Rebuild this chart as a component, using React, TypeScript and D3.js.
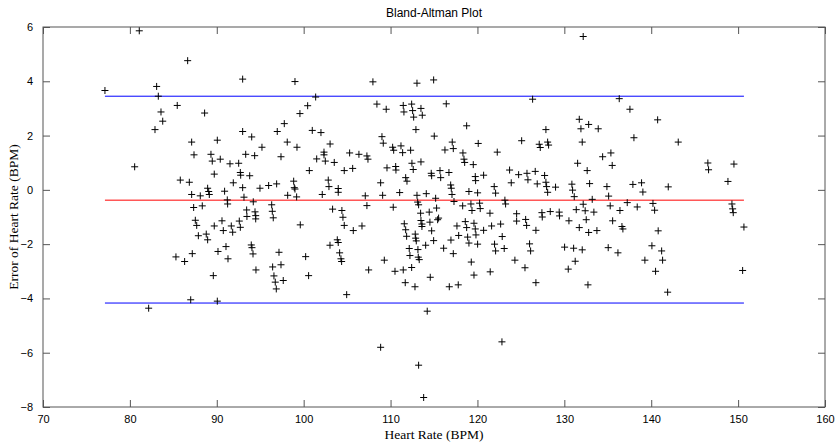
import React, { useEffect, useRef } from "react";
import { select, scaleLinear, axisLeft, axisBottom, axisTop, axisRight, extent, range } from "d3";

const heartRate = [
  81.08, 86.65, 83.08, 77.13, 83.27, 85.45, 83.58, 88.6, 83.78, 82.89, 87.11, 90.06, 87.38, 89.33, 89.48, 90.4,
  80.55, 89.71, 85.8, 86.84, 88.95, 89.07, 87.11, 88.1, 89.14, 90.9, 87.34, 88.33,
  92.98, 99.0, 101.38, 100.46, 99.57, 97.77, 92.98, 96.96, 100.99, 101.99, 94.02, 103.04, 95.2, 98.11, 99.23,
  102.34, 102.34, 105.29, 93.33, 94.36, 97.39, 101.5, 102.49, 103.52, 91.52, 92.52, 100.65, 104.67, 105.64,
  92.71, 92.75, 93.79, 91.9, 92.98, 94.97, 95.97, 96.89, 98.85, 98.92, 99.0, 102.83, 102.91, 103.98, 103.98,
  93.13, 98.16, 99.19, 102.14, 91.21, 91.25, 94.2, 96.32, 93.44, 94.4, 96.39, 103.33, 104.4,
  87.53, 87.69, 90.6, 89.71, 90.75, 87.88, 88.79, 88.95, 85.3, 86.3, 87.18, 90.14, 89.6, 87.0, 90.06, 82.16,
  94.48, 94.48, 93.47, 96.5, 91.67, 91.83, 92.59, 92.71, 91.06, 91.29, 93.97, 94.05, 94.17, 94.51, 97.16,
  96.43, 97.39, 96.58, 96.73, 97.65, 96.85, 99.61, 100.23, 100.57, 104.52, 104.67, 105.71, 103.03, 103.87,
  103.98, 104.14, 104.29, 104.37, 104.95,
  107.97, 113.04, 114.96, 108.43, 109.5, 111.46, 112.43, 111.54, 112.54, 113.5, 112.66, 113.65, 116.41,
  112.92, 118.76, 109.01, 109.16, 115.03, 110.24, 110.36, 111.2, 111.39, 112.31, 117.1, 117.22, 116.26,
  120.09, 106.36, 107.28, 107.4, 109.59, 110.59, 110.62, 112.46, 112.61, 113.5, 114.68, 114.73, 115.69,
  115.77, 116.72, 118.33, 118.45, 118.53, 119.52, 119.75, 119.79, 120.71, 111.74, 111.89, 108.86, 116.92,
  116.99, 117.07, 117.3, 119.02, 120.02, 107.09, 109.09, 111.05, 113.04, 114.11, 115.19, 113.12, 113.23,
  107.28, 110.31, 115.3, 118.3, 119.25, 120.25, 120.32, 119.37, 113.46, 114.45,
  115.53, 115.42, 113.5, 113.61, 113.61, 114.53, 114.73, 114.96, 114.04, 111.58, 111.74, 111.85, 112.84,
  112.89, 112.96, 106.71, 112.15, 112.23, 113.15, 113.19, 113.3, 109.28, 107.48, 110.51, 111.46, 112.43,
  111.69, 112.81, 114.57, 116.11, 116.95, 117.22, 116.76, 117.79, 117.64, 117.84, 118.6, 118.76, 118.87,
  119.02, 119.6, 119.75, 119.83, 120.02, 120.71, 119.29, 119.6, 114.22, 108.86, 113.23, 113.81,
  132.17, 126.35, 131.72, 131.91, 132.8, 133.9, 127.88, 125.09, 127.11, 127.23, 128.08, 128.19, 132.06,
  122.28, 134.41, 135.36, 135.51, 131.53, 132.63, 123.7, 124.74, 125.7, 125.81, 126.65, 127.73, 127.88,
  127.96, 128.08, 126.88, 123.89, 128.99, 121.93, 122.09, 130.87, 130.95, 131.14, 132.91, 134.9, 135.1,
  133.21, 123.16, 123.24, 132.17, 135.28, 131.37, 132.4, 133.4, 121.44, 124.51, 127.42, 128.38, 129.41,
  124.51, 125.55, 125.66, 127.46, 129.45, 130.53, 132.52, 131.72, 132.8, 133.75, 135.56, 121.63, 122.67,
  122.85, 121.97, 122.09, 123.08, 126.73, 126.0, 126.12, 124.31, 125.47, 121.47, 126.73, 130.03, 131.07,
  132.06, 131.25, 130.45, 132.72, 135.05, 122.82,
  136.32, 137.55, 140.74, 138.01, 143.11, 146.52, 146.6, 149.52, 137.89, 138.89, 139.04, 141.96, 148.83,
  137.24, 138.39, 140.2, 140.39, 136.4, 149.29, 149.37, 149.44,
  136.63, 136.74, 140.8, 136.17, 140.08, 141.2, 139.27, 141.31, 140.5, 141.89, 150.67, 150.52,
];

const hrError = [
  5.86, 4.76, 3.81, 3.66, 3.45, 3.11, 2.87, 2.83, 2.53, 2.22, 1.76, 1.83, 1.29, 1.31, 1.06, 1.13,
  0.85, 0.58, 0.36, 0.28, 0.06, -0.06, -0.17, -0.22, -0.17, -0.05, -0.65, -0.59,
  4.08, 3.99, 3.42, 3.1, 2.81, 2.44, 2.15, 2.15, 2.19, 2.11, 1.95, 1.69, 1.57, 1.76, 1.57,
  1.39, 1.29, 1.36, 1.31, 1.26, 1.22, 1.14, 1.06, 1.01, 0.96, 0.98, 0.71, 0.71, 0.79,
  0.64, 0.54, 0.52, 0.26, 0.08, 0.06, 0.16, 0.22, 0.32, 0.08, 0.03, 0.36, 0.12, 0.05, -0.09,
  -0.27, -0.2, -0.26, -0.17, -0.37, -0.52, -0.44, -0.55, -0.74, -0.81, -0.79, -0.71, -0.76,
  -1.12, -1.31, -1.14, -1.33, -1.5, -1.69, -1.63, -1.84, -2.47, -2.64, -2.35, -2.27, -3.16, -4.05, -4.1, -4.36,
  -0.95, -1.07, -0.98, -1.03, -1.33, -1.56, -1.15, -1.38, -2.09, -2.54, -2.03, -2.13, -2.36, -2.95, -2.3,
  -2.84, -2.76, -3.17, -3.4, -3.34, -3.65, -1.29, -2.46, -3.16, -1.01, -1.31, -1.5, -2.04, -1.84,
  -1.94, -2.32, -2.54, -2.64, -3.86,
  3.98, 3.93, 4.05, 3.16, 2.97, 3.11, 3.16, 2.87, 2.92, 3.0, 2.68, 2.75, 3.17,
  2.22, 2.36, 1.96, 1.72, 1.98, 1.57, 1.46, 1.62, 1.37, 1.46, 1.76, 1.52, 1.47,
  1.71, 1.31, 1.25, 1.13, 0.81, 0.86, 0.73, 0.98, 0.75, 1.03, 0.61, 0.52, 0.71,
  0.45, 0.64, 1.36, 1.13, 1.01, 0.93, 0.49, 0.34, 0.54, 0.45, 0.32, 0.26, 0.18,
  0.06, -0.17, -0.43, -0.06, -0.11, -0.22, -0.2, -0.1, -0.2, -0.14, -0.31, -0.45, -0.55,
  -0.58, -0.64, -0.67, -0.59, -0.52, -0.49, -0.69, -0.76, -0.86, -0.82,
  -1.04, -1.1, -1.13, -1.26, -1.35, -1.19, -1.51, -1.87, -2.04, -1.25, -1.47, -1.71, -1.63,
  -1.78, -1.88, -1.33, -2.16, -2.42, -2.2, -2.48, -2.57, -2.59, -2.95, -3.0, -2.95, -2.86,
  -3.42, -3.57, -3.22, -2.15, -1.85, -2.35, -3.57, -3.5, -1.33, -1.68, -1.17, -1.39, -1.74,
  -1.96, -1.23, -1.44, -1.66, -2.0, -1.49, -2.66, -3.14, -4.47, -5.8, -6.46, -7.65,
  5.65, 3.34, 2.6, 2.25, 2.41, 2.25, 2.22, 1.81, 1.68, 1.56, 1.76, 1.65, 1.76,
  1.39, 1.22, 1.36, 0.9, 0.98, 0.71, 0.73, 0.56, 0.61, 0.37, 0.68, 0.53, 0.28,
  0.12, -0.09, 0.22, 0.26, 0.1, 0.12, -0.12, 0.21, -0.01, -0.25, 0.23, 0.12, -0.23,
  -0.35, -0.38, -0.52, -0.53, -0.59, -0.73, -0.77, -0.82, -0.86, -0.88, -0.84, -0.8, -0.82,
  -1.15, -1.09, -1.31, -1.0, -0.96, -1.14, -1.1, -1.39, -1.57, -1.5, -1.14, -1.33, -1.26,
  -1.72, -2.0, -2.25, -2.16, -1.49, -1.99, -2.25, -2.59, -2.87, -3.02, -3.42, -2.11, -2.15,
  -2.21, -2.63, -2.92, -3.5, -2.13, -5.6,
  3.36, 2.97, 2.58, 1.92, 1.76, 0.99, 0.74, 0.95, 0.2, 0.26, -0.08, 0.11, 0.31,
  -0.47, -0.63, -0.5, -0.75, -0.76, -0.52, -0.7, -0.84,
  -1.35, -1.44, -1.51, -2.32, -2.06, -2.25, -2.59, -2.59, -3.0, -3.77, -1.37, -2.97,
];

// mean difference and limits of agreement
const meanDiff = -0.38;
const upperLimit = 3.45;
const lowerLimit = -4.17;

const xTicks = [70, 80, 90, 100, 110, 120, 130, 140, 150, 160];
const yTicks = [-8, -6, -4, -2, 0, 2, 4, 6];

const width = 837;
const height = 442;
const margin = { top: 27, right: 12, bottom: 35, left: 43 };

function BlandAltman() {
  const svgRef = useRef<SVGSVGElement>(null);

  useEffect(() => {
    const svg = select(svgRef.current);
    svg.selectAll("*").remove();

    const x = scaleLinear().domain([70, 160]).range([margin.left, width - margin.right]);
    const y = scaleLinear().domain([-8, 6]).range([height - margin.bottom, margin.top]);

    const tickFont = "Arial, 'Liberation Sans', sans-serif";
    const axisColor = "#555";

    const styleAxis = (g, showText) => {
      g.select(".domain").remove();
      g.selectAll(".tick line").attr("stroke", axisColor);
      g.selectAll(".tick text")
        .attr("font-family", tickFont)
        .attr("font-size", 11)
        .attr("fill", "#000")
        .style("display", showText ? null : "none");
    };

    // axes, MATLAB style: ticks inward on all four sides
    svg.append("g")
      .attr("transform", `translate(0,${y(-8)})`)
      .call(axisBottom(x).tickValues(xTicks).tickSizeInner(-7).tickSizeOuter(0).tickPadding(8))
      .call(g => styleAxis(g, true));
    svg.append("g")
      .attr("transform", `translate(0,${y(6)})`)
      .call(axisTop(x).tickValues(xTicks).tickSizeInner(-7).tickSizeOuter(0))
      .call(g => styleAxis(g, false));
    svg.append("g")
      .attr("transform", `translate(${x(70)},0)`)
      .call(axisLeft(y).tickValues(yTicks).tickSizeInner(-7).tickSizeOuter(0).tickPadding(10))
      .call(g => styleAxis(g, true));
    svg.append("g")
      .attr("transform", `translate(${x(160)},0)`)
      .call(axisRight(y).tickValues(yTicks).tickSizeInner(-7).tickSizeOuter(0))
      .call(g => styleAxis(g, false));

    // box
    svg.append("rect")
      .attr("x", x(70))
      .attr("y", y(6))
      .attr("width", x(160) - x(70))
      .attr("height", y(-8) - y(6))
      .attr("fill", "none")
      .attr("stroke", axisColor)
      .attr("stroke-width", 1);

    // mean and limit lines across the data range
    const [xMin, xMax] = extent(heartRate);
    const lines = [
      { v: upperLimit, c: "#0000ff" },
      { v: meanDiff, c: "#ff0000" },
      { v: lowerLimit, c: "#0000ff" },
    ];
    svg.selectAll(".ref-line")
      .data(lines)
      .join("line")
      .attr("class", "ref-line")
      .attr("x1", x(xMin))
      .attr("x2", x(xMax))
      .attr("y1", d => y(d.v))
      .attr("y2", d => y(d.v))
      .attr("stroke", d => d.c)
      .attr("stroke-width", 1);

    // plus markers
    const s = 3.5;
    svg.selectAll(".pt")
      .data(range(heartRate.length))
      .join("path")
      .attr("class", "pt")
      .attr("d", i => {
        const px = x(heartRate[i]);
        const py = y(hrError[i]);
        return `M${px - s},${py}H${px + s}M${px},${py - s}V${py + s}`;
      })
      .attr("stroke", "#000")
      .attr("stroke-width", 1)
      .attr("fill", "none");

    // title + labels
    svg.append("text")
      .attr("x", (x(70) + x(160)) / 2)
      .attr("y", 17)
      .attr("text-anchor", "middle")
      .attr("font-family", tickFont)
      .attr("font-size", 12)
      .text("Bland-Altman Plot");

    svg.append("text")
      .attr("x", (x(70) + x(160)) / 2)
      .attr("y", 439)
      .attr("text-anchor", "middle")
      .attr("font-family", "'Times New Roman', 'Liberation Serif', serif")
      .attr("font-size", 13.5)
      .text("Heart Rate (BPM)");

    svg.append("text")
      .attr("transform", `translate(18,${(y(6) + y(-8)) / 2}) rotate(-90)`)
      .attr("text-anchor", "middle")
      .attr("font-family", "'Times New Roman', 'Liberation Serif', serif")
      .attr("font-size", 13.5)
      .text("Error of Heart Rate (BPM)");
  }, []);

  return (
    <svg
      ref={svgRef}
      width={width}
      height={height}
      style={{ position: "absolute", left: 0, top: 0, background: "#fff" }}
    />
  );
}

export default function App() {
  return <BlandAltman />;
}
